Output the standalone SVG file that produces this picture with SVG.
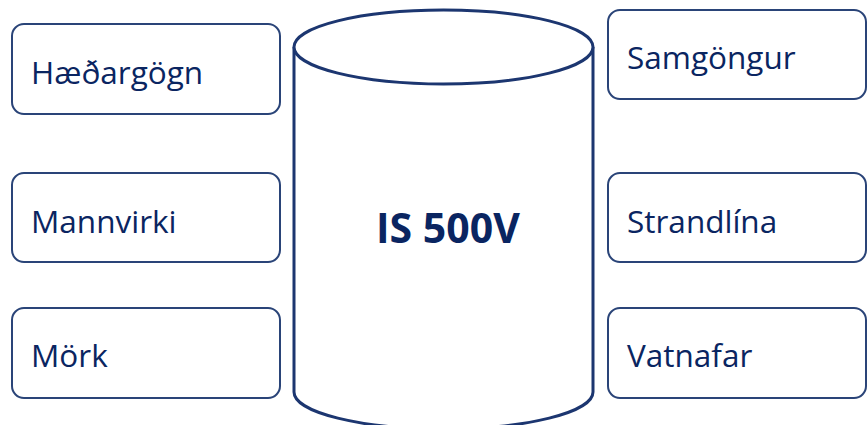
<svg xmlns="http://www.w3.org/2000/svg" width="868" height="425" viewBox="0 0 868 425">
<style>
.box{fill:#fff;stroke:#2a4478;stroke-width:2}
.cyl{fill:#fff;stroke:#1c3670;stroke-width:3}
.lbl{font-family:"Open Sans","Liberation Sans",sans-serif;font-size:31.5px;fill:#0a2561}
.ttl{font-family:"Open Sans","Liberation Sans",sans-serif;font-size:41px;font-weight:bold;fill:#0a2561}
</style>
<rect width="868" height="425" fill="#fff"/>
<g id="db">
<path class="cyl" d="M294,47 L294,392 A149.5,37 0 0 0 593,392 L593,47"/>
<ellipse class="cyl" cx="443.5" cy="47" rx="149.5" ry="37"/>
<text class="ttl" x="376" y="243">IS 500V</text>
</g>
<g id="n1"><rect class="box" x="12" y="24" width="268" height="90" rx="12"/><text class="lbl" x="31" y="84">Hæðargögn</text></g>
<g id="n2"><rect class="box" x="12" y="173" width="268" height="89" rx="12"/><text class="lbl" x="31" y="233">Mannvirki</text></g>
<g id="n3"><rect class="box" x="12" y="308" width="268" height="90" rx="12"/><text class="lbl" x="31" y="367">Mörk</text></g>
<g id="n4"><rect class="box" x="608" y="10" width="258" height="89" rx="12"/><text class="lbl" x="627" y="69">Samgöngur</text></g>
<g id="n5"><rect class="box" x="608" y="173" width="258" height="89" rx="12"/><text class="lbl" x="627" y="233">Strandlína</text></g>
<g id="n6"><rect class="box" x="608" y="308" width="258" height="90" rx="12"/><text class="lbl" x="627" y="367">Vatnafar</text></g>
<g id="connectors"></g>
</svg>
